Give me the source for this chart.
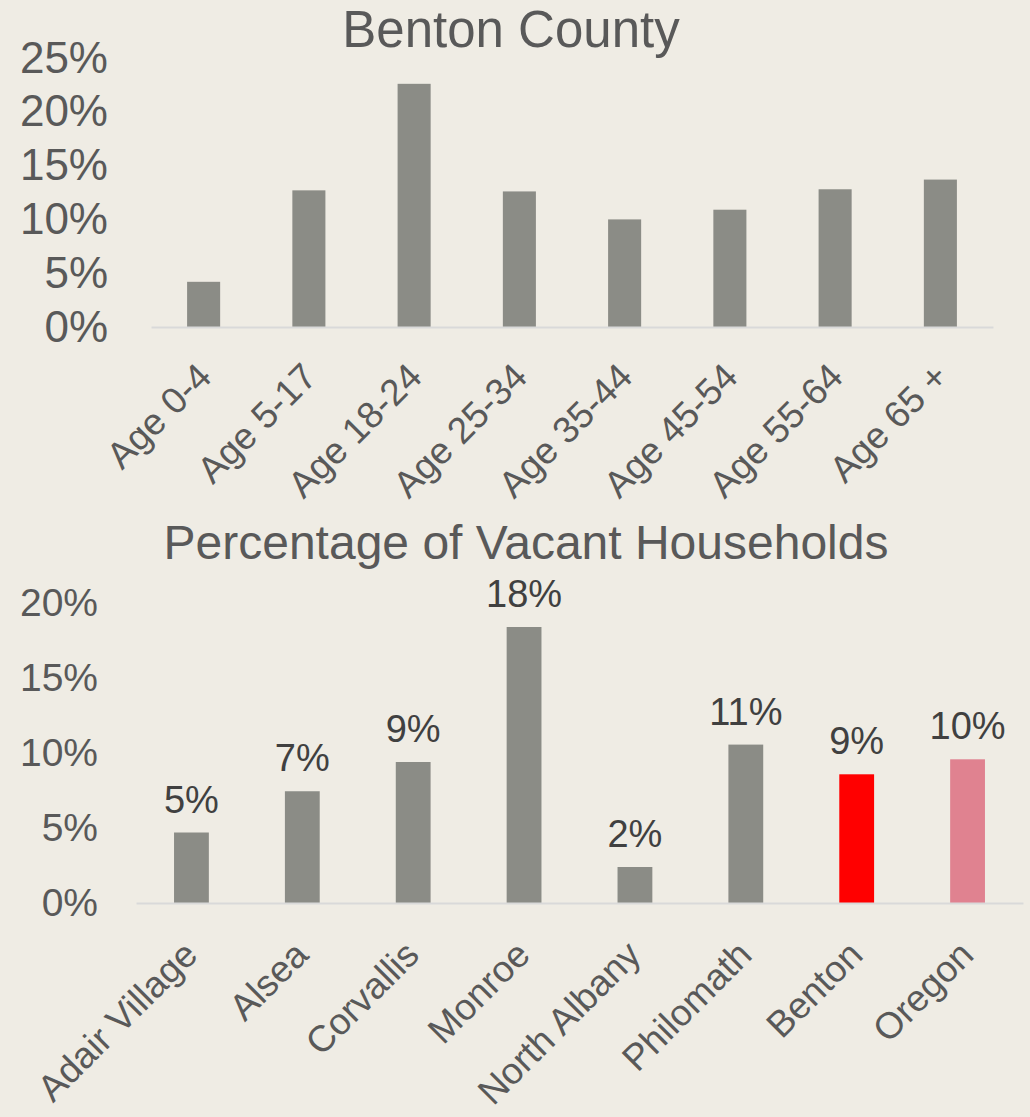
<!DOCTYPE html>
<html>
<head>
<meta charset="utf-8">
<script src="https://cdn.jsdelivr.net/npm/d3@7"></script>
<style>
  body { margin: 0; background: #efece4; }
  svg { display: block; font-family: "Liberation Sans", Arial, sans-serif; }
</style>
</head>
<body>
<div id="chart"></div>
<script>
// age chart
const ageGroups = ["Age 0-4", "Age 5-17", "Age 18-24", "Age 25-34", "Age 35-44", "Age 45-54", "Age 55-64", "Age 65 +"]
const agePct = [0.042, 0.127, 0.226, 0.126, 0.100, 0.109, 0.128, 0.137]
const ageTicks = [0, 0.05, 0.10, 0.15, 0.20, 0.25]

// vacancy chart
const places = ["Adair Village", "Alsea", "Corvallis", "Monroe", "North Albany", "Philomath", "Benton", "Oregon"]
const vacantPct = [0.047, 0.0745, 0.094, 0.184, 0.024, 0.1056, 0.0858, 0.0958]
const vacantTicks = [0, 0.05, 0.10, 0.15, 0.20]

const grey = "#8b8c86"
const placeColor = { Benton: "#ff0000", Oregon: "#e08290" }
const textColor = "#595959"
const pct = d3.format(".0%")

const svg = d3
  .select("#chart")
  .append("svg")
  .attr("width", 1030)
  .attr("height", 1117)

svg.append("rect").attr("width", 1030).attr("height", 1117).attr("fill", "#efece4")

const drawPanel = opts => {
  const { title, titleY, titleX, titleSize, cats, vals, ticks, xRange, yRange, yMax, tickSize, labelSize, labelDx, labelDy, showValues } = opts
  const x = d3
    .scaleBand()
    .domain(cats)
    .range(xRange)
    .paddingInner(0.686)
    .paddingOuter(0.343)
  const y = d3
    .scaleLinear()
    .domain([0, yMax])
    .range(yRange)

  svg
    .append("text")
    .attr("x", titleX)
    .attr("y", titleY)
    .attr("text-anchor", "middle")
    .attr("font-size", titleSize)
    .attr("fill", textColor)
    .text(title)

  const yAxis = svg
    .append("g")
    .attr("transform", `translate(${xRange[0]},0)`)
    .call(
      d3
        .axisLeft(y)
        .tickValues(ticks)
        .tickFormat(pct)
        .tickSize(0)
        .tickPadding(opts.yPad)
    )
  yAxis.select(".domain").remove()
  yAxis
    .selectAll("text")
    .attr("font-size", tickSize)
    .attr("font-family", "Liberation Sans, Arial, sans-serif")
    .attr("fill", textColor)

  svg
    .append("g")
    .selectAll("rect")
    .data(vals)
    .enter()
    .append("rect")
    .attr("x", (d, i) => x(cats[i]))
    .attr("width", x.bandwidth())
    .attr("y", d => y(d))
    .attr("height", d => y(0) - y(d))
    .attr("fill", (d, i) => placeColor[cats[i]] || grey)

  if (showValues) {
    svg
      .append("g")
      .selectAll("text")
      .data(vals)
      .enter()
      .append("text")
      .attr("x", (d, i) => x(cats[i]) + x.bandwidth() / 2)
      .attr("y", d => y(d) - 20)
      .attr("text-anchor", "middle")
      .attr("font-size", opts.valueSize)
      .attr("fill", "#404040")
      .text(d => pct(d))
  }

  const xAxis = svg
    .append("g")
    .attr("transform", `translate(0,${yRange[0]})`)
    .call(
      d3
        .axisBottom(x)
        .tickSize(0)
        .tickSizeOuter(0)
    )
  xAxis
    .select(".domain")
    .attr("stroke", "#d9d9d9")
    .attr("stroke-width", 2)
  xAxis
    .selectAll("text")
    .attr("x", 0)
    .attr("y", 0)
    .attr("dy", 0)
    .attr("text-anchor", "end")
    .attr("transform", `translate(${labelDx},${labelDy}) rotate(-45)`)
    .attr("font-size", labelSize)
    .attr("font-family", "Liberation Sans, Arial, sans-serif")
    .attr("fill", textColor)
}

drawPanel({
  title: "Benton County",
  titleX: 511,
  titleY: 47,
  titleSize: 51,
  cats: ageGroups,
  vals: agePct,
  ticks: ageTicks,
  xRange: [151, 993],
  yRange: [327, 58],
  yMax: 0.25,
  tickSize: 44,
  yPad: 43,
  labelSize: 37,
  labelDx: 10,
  labelDy: 52,
  showValues: false,
})

drawPanel({
  title: "Percentage of Vacant Households",
  titleX: 526,
  titleY: 559,
  titleSize: 48,
  cats: places,
  vals: vacantPct,
  ticks: vacantTicks,
  xRange: [136, 1023],
  yRange: [903, 603],
  yMax: 0.2,
  tickSize: 39,
  yPad: 38,
  labelSize: 37,
  labelDx: 8,
  labelDy: 54,
  showValues: true,
  valueSize: 38,
})
</script>
</body>
</html>
